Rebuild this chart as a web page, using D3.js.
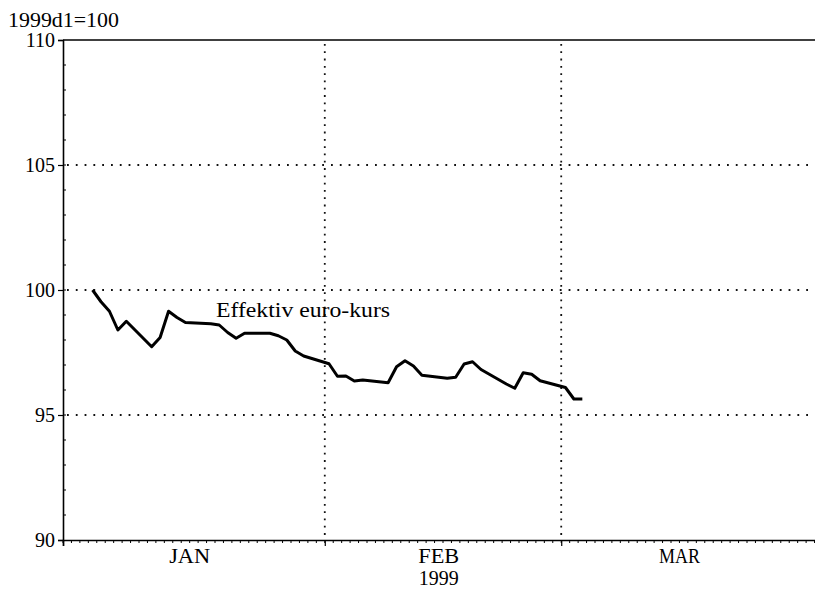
<!DOCTYPE html>
<meta charset="utf-8">
<body style="margin:0;background:#fff">
<script src="https://d3js.org/d3.v7.min.js"></script>
<script>

// Chart size and plot box.

var width = 815,
    height = 590;

var plotLeft = 63, plotRight = 823, plotTop = 40, plotBottom = 540;
var serif = "Liberation Serif, Times New Roman, serif";

// Data: effective euro rate, business days, 1999d1 = 100.

var dates = ["1999-01-04", "1999-01-05", "1999-01-06", "1999-01-07", "1999-01-08",
             "1999-01-11", "1999-01-12", "1999-01-13", "1999-01-14", "1999-01-15",
             "1999-01-18", "1999-01-19", "1999-01-20", "1999-01-21", "1999-01-22",
             "1999-01-25", "1999-01-26", "1999-01-27", "1999-01-28", "1999-01-29",
             "1999-02-01", "1999-02-02", "1999-02-03", "1999-02-04", "1999-02-05",
             "1999-02-08", "1999-02-09", "1999-02-10", "1999-02-11", "1999-02-12",
             "1999-02-15", "1999-02-16", "1999-02-17", "1999-02-18", "1999-02-19",
             "1999-02-22", "1999-02-23", "1999-02-24", "1999-02-25", "1999-02-26",
             "1999-03-01", "1999-03-02", "1999-03-03"];

var values = [100.0, 99.53, 99.15, 98.4, 98.75,
              97.73, 98.1, 99.15, 98.9, 98.7,
              98.65, 98.6, 98.3, 98.07, 98.27,
              98.27, 98.17, 98.0, 97.56, 97.36,
              97.05, 96.55, 96.56, 96.36, 96.4,
              96.29, 96.93, 97.17, 96.96, 96.59,
              96.47, 96.51, 97.04, 97.13, 96.82,
              96.24, 96.07, 96.69, 96.63, 96.37,
              96.1, 95.64, 95.64];

var yTicks = [90, 95, 100, 105, 110];
var yGrid = [95, 100, 105];
var monthStarts = ["1999-01-01", "1999-02-01", "1999-03-01", "1999-04-01"];
var monthLabels = ["JAN", "FEB", "MAR"];
var monthLabelDates = ["1999-01-16", "1999-02-14T12:00", "1999-03-15"];
var seriesName = "Effektiv euro-kurs";
var yearLabel = "1999";
var unitLabel = "1999d1=100";

var parse = function(s) { return new Date(s + (s.length > 10 ? "Z" : "T00:00Z")); };
var noon = function(s) { return d3.utcHour.offset(parse(s), 12); };

// Scales.

var x = d3.scaleUtc()
    .domain([parse(monthStarts[0]), parse(monthStarts[3])])
    .range([plotLeft, plotRight]);

var y = d3.scaleLinear()
    .domain([90, 110])
    .range([plotBottom, plotTop]);

var svg = d3.select("body").append("svg")
    .attr("width", width)
    .attr("height", height)
    .style("display", "block")
    .attr("font-family", serif);

// Dotted grid.

svg.append("g").selectAll("line")
    .data(yGrid)
    .enter().append("line")
    .attr("x1", plotLeft + 4)
    .attr("x2", plotRight)
    .attr("y1", function(d) { return y(d); })
    .attr("y2", function(d) { return y(d); })
    .attr("stroke", "#111")
    .attr("stroke-width", 1.8)
    .attr("stroke-dasharray", "1.8,7");

svg.append("g").selectAll("line")
    .data(monthStarts.slice(1, 3))
    .enter().append("line")
    .attr("x1", function(d) { return x(parse(d)); })
    .attr("x2", function(d) { return x(parse(d)); })
    .attr("y1", plotTop + 4)
    .attr("y2", plotBottom)
    .attr("stroke", "#111")
    .attr("stroke-width", 1.8)
    .attr("stroke-dasharray", "1.8,5.5");

// Frame: top line, left and bottom axes.

svg.append("line")
    .attr("x1", plotLeft).attr("x2", plotRight)
    .attr("y1", plotTop).attr("y2", plotTop)
    .attr("stroke", "#000").attr("stroke-width", 1.6);

var yAxis = svg.append("g")
    .attr("transform", "translate(" + plotLeft + ",0)")
    .call(d3.axisLeft(y).tickValues(yTicks).tickSize(5).tickFormat(d3.format("d")));

// Minor y ticks, inside.
svg.append("g").selectAll("line")
    .data(d3.range(91, 110))
    .enter().append("line")
    .attr("x1", plotLeft).attr("x2", plotLeft + 3)
    .attr("y1", function(d) { return y(d); })
    .attr("y2", function(d) { return y(d); })
    .attr("stroke", "#000");

var xAxis = svg.append("g")
    .attr("transform", "translate(0," + plotBottom + ")")
    .call(d3.axisBottom(x).tickValues(monthStarts.map(parse)).tickSize(6).tickFormat(""));

// Daily minor ticks.
svg.append("g").selectAll("line")
    .data(d3.utcDay.range(parse(monthStarts[0]), parse(monthStarts[3])))
    .enter().append("line")
    .attr("x1", function(d) { return x(d); })
    .attr("x2", function(d) { return x(d); })
    .attr("y1", plotBottom).attr("y2", plotBottom + 3)
    .attr("stroke", "#000");

[yAxis, xAxis].forEach(function(a) {
    a.attr("font-family", serif).attr("font-size", 20);
    a.select(".domain").attr("stroke", "#000").attr("stroke-width", 1.6);
    a.selectAll(".tick line").attr("stroke", "#000").attr("stroke-width", 1.2);
    a.selectAll("text").attr("fill", "#000");
});
yAxis.selectAll("text").attr("x", -8);

// Month labels.

svg.append("g").selectAll("text")
    .data(monthLabels)
    .enter().append("text")
    .attr("x", function(d, i) { return x(parse(monthLabelDates[i])); })
    .attr("y", 563)
    .attr("text-anchor", "middle")
    .attr("font-size", 20)
    .attr("textLength", 41)
    .attr("lengthAdjust", "spacingAndGlyphs")
    .text(function(d) { return d; });

svg.append("text")
    .attr("x", x(parse(monthLabelDates[1])))
    .attr("y", 585)
    .attr("text-anchor", "middle")
    .attr("font-size", 20)
    .attr("textLength", 40)
    .attr("lengthAdjust", "spacingAndGlyphs")
    .text(yearLabel);

svg.append("text")
    .attr("x", 8)
    .attr("y", 27)
    .attr("font-size", 20)
    .attr("textLength", 111)
    .attr("lengthAdjust", "spacingAndGlyphs")
    .text(unitLabel);

// Series line.

var line = d3.line()
    .x(function(d, i) { return x(noon(dates[i])); })
    .y(function(d) { return y(d); });

svg.append("path")
    .datum(values)
    .attr("fill", "none")
    .attr("stroke", "#000")
    .attr("stroke-width", 3)
    .attr("stroke-linejoin", "round")
    .attr("d", line);

svg.append("text")
    .attr("x", 216)
    .attr("y", 317)
    .attr("font-size", 20)
    .attr("textLength", 174)
    .attr("lengthAdjust", "spacingAndGlyphs")
    .text(seriesName);

</script>
